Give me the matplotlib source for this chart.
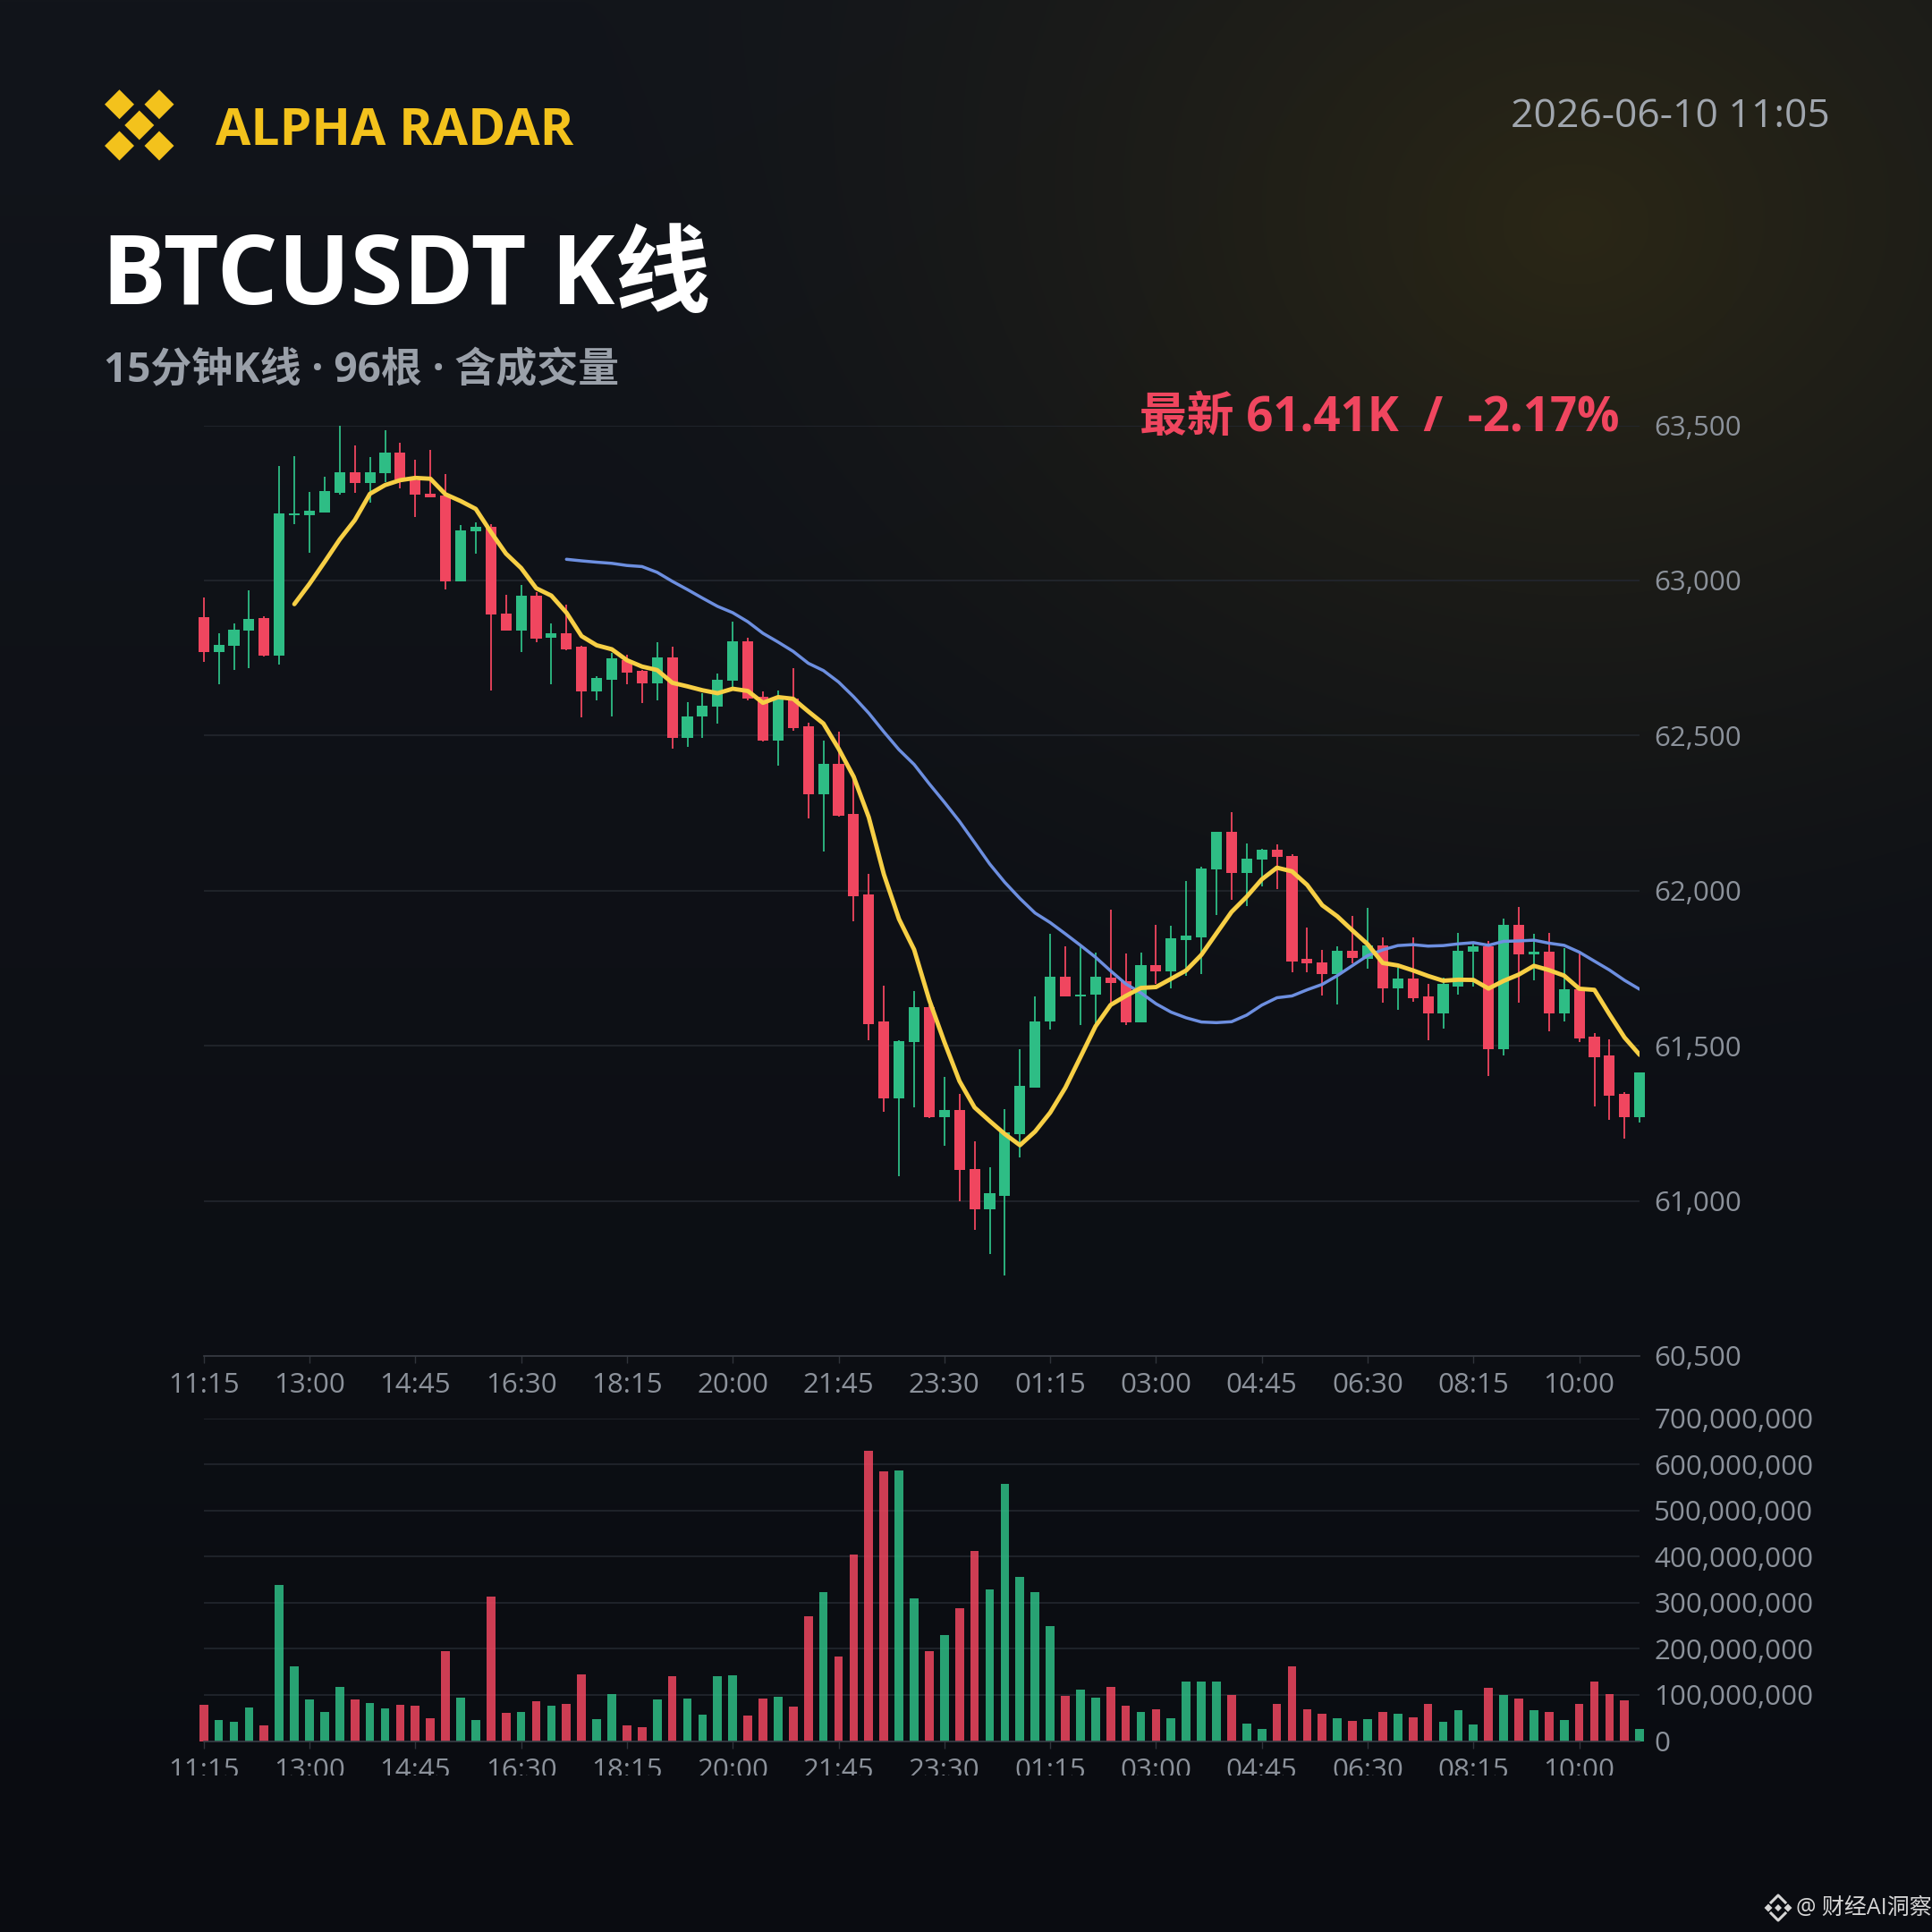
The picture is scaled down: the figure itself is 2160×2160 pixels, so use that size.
"""
BTCUSDT 15m candlestick card (Alpha Radar style).

Candles + MA7 / MA25 on top, volume bars below.
Output: out.png (2160x2160)
"""
import matplotlib
matplotlib.use("Agg")
import matplotlib.pyplot as plt
import numpy as np
import pandas as pd
from matplotlib.patches import Polygon
from matplotlib.transforms import Bbox, TransformedBbox

plt.rcParams["font.family"] = ["Open Sans", "Noto Sans CJK SC", "DejaVu Sans"]

# ── data ──
OPEN = [62881, 62768, 62789, 62838, 62879, 62757, 63210, 63210, 63220, 63282,
        63348, 63314, 63345, 63412, 63324, 63280, 63273, 62997, 63158, 63172,
        62894, 62838, 62951, 62814, 62830, 62785, 62643, 62681, 62743, 62708,
        62669, 62751, 62491, 62562, 62593, 62677, 62805, 62624, 62484, 62619,
        62531, 62311, 62408, 62246, 61989, 61577, 61330, 61511, 61623, 61271,
        61293, 61103, 60974, 61017, 61216, 61366, 61577, 61721, 61659, 61666,
        61719, 61707, 61574, 61759, 61741, 61841, 61850, 62068, 62189, 62058,
        62099, 62133, 62112, 61780, 61768, 61730, 61807, 61781, 61824, 61685,
        61716, 61659, 61605, 61691, 61803, 61819, 61490, 61890, 61795, 61802,
        61603, 61682, 61528, 61468, 61345, 61269]
HIGH = [62944, 62829, 62862, 62968, 62883, 63369, 63400, 63285, 63333, 63499,
        63434, 63399, 63485, 63444, 63389, 63422, 63343, 63179, 63187, 63181,
        62954, 62984, 62963, 62860, 62922, 62790, 62692, 62766, 62759, 62711,
        62800, 62785, 62607, 62635, 62700, 62867, 62816, 62643, 62646, 62717,
        62542, 62484, 62511, 62360, 62053, 61693, 61518, 61677, 61630, 61399,
        61345, 61191, 61108, 61296, 61489, 61659, 61860, 61821, 61824, 61800,
        61940, 61798, 61800, 61889, 61886, 62030, 62078, 62189, 62253, 62153,
        62135, 62148, 62117, 61880, 61810, 61819, 61917, 61944, 61848, 61752,
        61848, 61699, 61718, 61863, 61836, 61839, 61911, 61947, 61860, 61863,
        61815, 61800, 61541, 61521, 61351, 61413]
LOW = [62737, 62665, 62710, 62716, 62755, 62730, 63181, 63088, 63220, 63276,
       63283, 63252, 63316, 63297, 63203, 63268, 62970, 62997, 63085, 62646,
       62838, 62768, 62800, 62665, 62776, 62558, 62612, 62562, 62666, 62604,
       62612, 62457, 62462, 62491, 62538, 62658, 62612, 62480, 62403, 62516,
       62233, 62125, 62238, 61901, 61518, 61287, 61078, 61302, 61268, 61178,
       61000, 60907, 60828, 60758, 61139, 61366, 61551, 61659, 61566, 61572,
       61633, 61566, 61574, 61700, 61685, 61726, 61731, 61922, 61971, 61950,
       62014, 62006, 61738, 61738, 61661, 61632, 61767, 61749, 61640, 61615,
       61643, 61518, 61555, 61666, 61691, 61403, 61468, 61640, 61711, 61545,
       61579, 61512, 61305, 61262, 61201, 61252]
CLOSE = [62768, 62792, 62841, 62877, 62757, 63215, 63215, 63225, 63287, 63348,
         63314, 63350, 63412, 63326, 63276, 63268, 62997, 63162, 63172, 62891,
         62838, 62951, 62812, 62830, 62778, 62643, 62684, 62748, 62704, 62669,
         62751, 62491, 62562, 62596, 62681, 62805, 62619, 62484, 62619, 62524,
         62311, 62408, 62241, 61983, 61569, 61330, 61515, 61623, 61271, 61293,
         61100, 60974, 61024, 61221, 61371, 61579, 61721, 61659, 61666, 61721,
         61703, 61574, 61759, 61741, 61846, 61855, 62071, 62189, 62058, 62102,
         62133, 62109, 61772, 61765, 61730, 61807, 61784, 61824, 61685, 61716,
         61653, 61605, 61699, 61807, 61819, 61490, 61890, 61795, 61802, 61603,
         61682, 61524, 61464, 61339, 61269, 61413]
VOLUME_M = [78, 46, 42, 72, 34, 339, 161, 90, 63, 117,
            90, 83, 70, 78, 76, 49, 195, 94, 46, 314,
            62, 63, 86, 76, 81, 145, 48, 102, 34, 31,
            91, 140, 93, 57, 140, 143, 55, 92, 96, 75,
            270, 322, 184, 404, 630, 585, 587, 309, 194, 230,
            288, 412, 329, 557, 355, 322, 249, 98, 112, 94,
            117, 76, 64, 68, 50, 129, 129, 129, 99, 38,
            27, 80, 161, 68, 60, 50, 44, 47, 63, 59,
            51, 80, 41, 67, 36, 115, 100, 92, 67, 63,
            46, 80, 129, 102, 89, 27]

TIME_LABELS = ["11:15", "13:00", "14:45", "16:30", "18:15", "20:00", "21:45",
               "23:30", "01:15", "03:00", "04:45", "06:30", "08:15", "10:00"]
TICK_STEP = 7
PRICE_TICKS = [60500, 61000, 61500, 62000, 62500, 63000, 63500]
VOLUME_TICKS = [0, 100e6, 200e6, 300e6, 400e6, 500e6, 600e6, 700e6]

BRAND = "ALPHA RADAR"
TITLE = "BTCUSDT K线"
SUBTITLE = "15分钟K线 · 96根 · 含成交量"
STAMP = "2026-06-10 11:05"
LAST_INFO = "最新 61.41K  /  -2.17%"
WATERMARK = "@ 财经AI洞察"

# ── style ──
GREEN = "#2ebd85"
RED = "#f0465f"
YELLOW = "#f7cf45"
BLUE = "#6d8fe0"
BRAND_YELLOW = "#f3c21c"
GRID = "#23272e"
AXIS_LINE = "#3a3e46"
AXIS_TXT = "#8c929b"
W = H = 2160


def fx(px):
    return px / W


def fy(py):
    return 1 - py / H


def diamond(cx, cy, r):
    return [(cx, cy - r), (cx + r, cy), (cx, cy + r), (cx - r, cy)]


o = np.array(OPEN, float)
hi = np.array(HIGH, float)
lo = np.array(LOW, float)
c = np.array(CLOSE, float)
vol = np.array(VOLUME_M, float) * 1e6
n = len(c)
x = np.arange(n)
up = c >= o
colors = np.where(up, GREEN, RED)
ma7 = pd.Series(c).rolling(7).mean().to_numpy()
ma25 = pd.Series(c).rolling(25).mean().to_numpy()
tick_idx = np.arange(len(TIME_LABELS)) * TICK_STEP

fig = plt.figure(figsize=(W / 100, H / 100), dpi=100)

# background: dark navy with a warm glow top-right
bg = fig.add_axes([0, 0, 1, 1], zorder=-10)
yy, xx = np.mgrid[0:H:4, 0:W:4].astype(float)
t = (yy / H)[..., None]
img = np.array([18, 21, 27]) / 255 * (1 - t) + np.array([10, 12, 17]) / 255 * t
d = np.sqrt(((xx - 1760) / 1150.0) ** 2 + ((yy - 250) / 950.0) ** 2)
g = (np.clip(1 - d, 0, 1) ** 1.5 * 0.95)[..., None]
img = img * (1 - g) + np.array([44, 40, 22]) / 255 * g
bg.imshow(img, extent=(0, W, H, 0), interpolation="bilinear", aspect="auto")
bg.set_xlim(0, W)
bg.set_ylim(H, 0)
bg.axis("off")

# logo
for cx, cy in [(133.5, 116.7), (178, 116.7), (155.8, 140), (133.5, 163), (178, 163)]:
    bg.add_patch(Polygon(diamond(cx, cy, 16.5), closed=True, color=BRAND_YELLOW, lw=0))

# watermark icon
wm = "#d6d6d6"
for cx, r in [(1977, 4.5), (1999, 4.5), (1988, 4)]:
    bg.add_patch(Polygon(diamond(cx, 2133, r), closed=True, color=wm, lw=0))
bg.plot([1980, 1988, 1996], [2127, 2119, 2127], color=wm, lw=2.2)
bg.plot([1980, 1988, 1996], [2139, 2147, 2139], color=wm, lw=2.2)

# header texts
fig.text(fx(241), fy(162), BRAND, color=BRAND_YELLOW, fontsize=41, fontweight="bold",
         va="baseline")
fig.text(fx(114), fy(340), TITLE, color="#ffffff", fontsize=77, fontweight="bold",
         va="baseline")
fig.text(fx(116), fy(427), SUBTITLE, color="#9aa0a9", fontsize=33, fontweight="bold",
         va="baseline")
fig.text(fx(2046), fy(142), STAMP, color="#a0a6ae", fontsize=32, ha="right",
         va="baseline")
fig.text(fx(1811), fy(482), LAST_INFO, color=RED, fontsize=38, fontweight="bold",
         ha="right", va="baseline")
fig.text(fx(2008), fy(2133), WATERMARK, color=wm, fontsize=18, va="center")

# ── price panel ──
ax = fig.add_axes([fx(227.7), fy(1515.9), fx(1833.2 - 227.7), (1515.9 - 475.5) / H])
ax.patch.set_alpha(0)
ax.set_xlim(0, n - 1)
ax.set_ylim(PRICE_TICKS[0], PRICE_TICKS[-1])
ax.hlines(PRICE_TICKS[1:], 0, n - 1, color=GRID, lw=1.2, zorder=0)
ax.vlines(x, lo, hi, colors=colors, lw=1.3, zorder=2, clip_on=False)
body_lo = np.minimum(o, c)
body_h = np.maximum(np.abs(c - o), 6)
ax.bar(x, body_h, bottom=body_lo, width=0.72, color=colors, lw=0, zorder=3,
       clip_on=False)
ax.plot(x, ma25, color=BLUE, lw=2.5, zorder=4, solid_joinstyle="round",
        solid_capstyle="round")
ax.plot(x, ma7, color=YELLOW, lw=3.5, zorder=5, solid_joinstyle="round",
        solid_capstyle="round")

for s in ["top", "left", "right"]:
    ax.spines[s].set_visible(False)
ax.spines["bottom"].set_color(AXIS_LINE)
ax.spines["bottom"].set_linewidth(1.2)
ax.yaxis.tick_right()
ax.set_yticks(PRICE_TICKS, [f"{v:,}" for v in PRICE_TICKS])
ax.tick_params(axis="y", length=0, pad=11.5, labelsize=22.5, labelcolor=AXIS_TXT)
ax.set_xticks(tick_idx, TIME_LABELS)
ax.tick_params(axis="x", length=6, width=1, color="#30343b", pad=7, labelsize=22.5,
               labelcolor=AXIS_TXT)

# ── volume panel ──
axv = fig.add_axes([fx(227.7), fy(1946.5), fx(1833.2 - 227.7), (1946.5 - 1585.6) / H])
axv.patch.set_alpha(0)
axv.set_xlim(0, n - 1)
axv.set_ylim(VOLUME_TICKS[0], VOLUME_TICKS[-1])
axv.hlines(VOLUME_TICKS[1:], 0, n - 1, color=GRID, lw=1.2, zorder=0)
axv.bar(x, vol, width=0.57, color=colors, alpha=0.85, lw=0, zorder=2, clip_on=False)
for s in ["top", "left", "right"]:
    axv.spines[s].set_visible(False)
axv.spines["bottom"].set_color(AXIS_LINE)
axv.spines["bottom"].set_linewidth(1.2)
axv.yaxis.tick_right()
axv.set_yticks(VOLUME_TICKS, [f"{int(v):,}" for v in VOLUME_TICKS])
axv.tick_params(axis="y", length=0, pad=11.5, labelsize=22.5, labelcolor=AXIS_TXT)
axv.set_xticks(tick_idx, TIME_LABELS)
axv.tick_params(axis="x", length=6, width=1, color="#30343b", pad=7, labelsize=22.5,
                labelcolor=AXIS_TXT)
# bottom time labels are cut off by the panel edge in the original
clip = TransformedBbox(Bbox.from_extents(0, fy(1985), 1, 1), fig.transFigure)
for lab in axv.get_xticklabels():
    lab.set_clip_on(True)
    lab.set_clip_box(clip)

fig.savefig("out.png", dpi=100)
plt.close(fig)
